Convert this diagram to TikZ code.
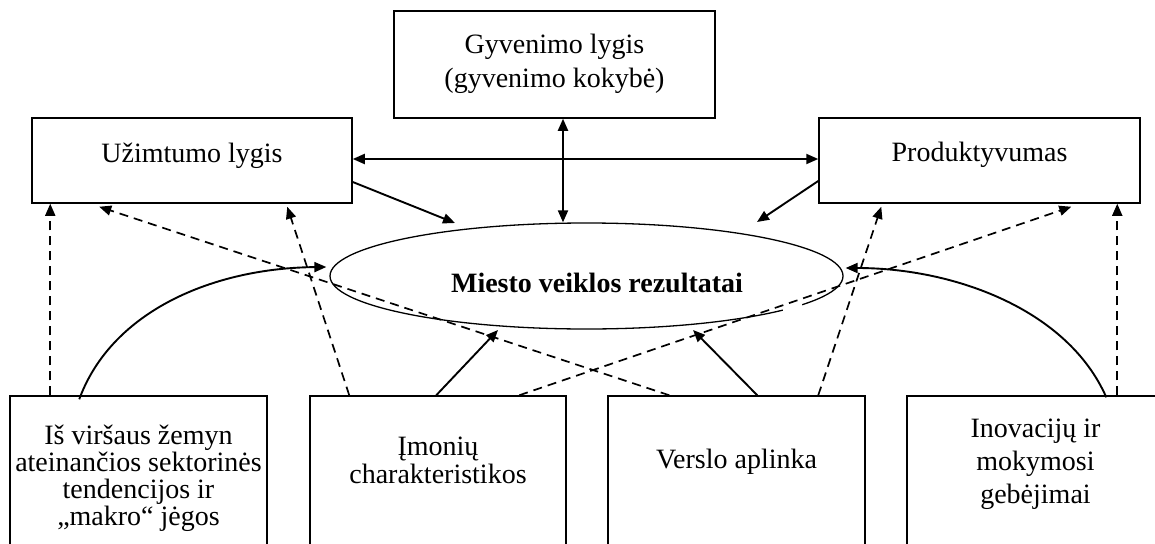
\documentclass[tikz,border=0pt]{standalone}
\usepackage{fontspec}
\setmainfont{Liberation Serif}
\usetikzlibrary{arrows.meta,calc,shapes.geometric}
\begin{document}
\begin{tikzpicture}[x=1pt,y=-1pt,
  box/.style={draw,line width=1.5pt,inner sep=0pt},
  txt/.style={inner sep=0pt,anchor=base,align=center},
  arr/.style={line width=1.9pt,arrows={-Triangle[length=12pt,width=10pt]}},
  darr/.style={line width=1.7pt,dash pattern=on 9pt off 6pt,arrows={-Triangle[length=12pt,width=10pt]}},
  biarr/.style={line width=2pt,arrows={Triangle[length=12pt,width=10pt]-Triangle[length=12pt,width=10pt]}}]
\useasboundingbox (0,0) rectangle (1155,543);
\clip (0,0) rectangle (1155,543);
% boxes
\node[box,minimum width=321pt,minimum height=107pt] (g) at (554.5,64.5) {};
\node[box,minimum width=320pt,minimum height=85pt] (u) at (192,160.5) {};
\node[box,minimum width=321pt,minimum height=85pt] (p) at (979.5,160.5) {};
\node[draw,line width=1.3pt,ellipse,inner sep=0pt,minimum width=513pt,minimum height=106pt] (e) at (586.5,276) {};
\draw[white,line width=4pt] ($(e.center)+(196.5,34)$) -- ($(e.center)+(215.5,28.7)$);
\node[box,minimum width=257pt,minimum height=200pt] (b1) at (138.5,496) {};
\node[box,minimum width=256pt,minimum height=200pt] (b2) at (438,496) {};
\node[box,minimum width=257pt,minimum height=200pt] (b3) at (736.5,496) {};
\node[box,minimum width=257pt,minimum height=200pt] (b4) at (1035.5,496) {};
% texts (base = last line baseline)
\node[txt,font=\fontsize{28}{34}\selectfont] (gt) at (554.5,87) {Gyvenimo lygis\\(gyvenimo kokybė)};
\node[txt,font=\fontsize{28}{34}\selectfont] (ut) at (192,162) {Užimtumo lygis};
\node[txt,font=\fontsize{28}{34}\selectfont] (pt) at (979.5,161) {Produktyvumas};
\node[txt,font=\fontsize{28}{34}\selectfont\bfseries] (et) at (597,292) {Miesto veiklos rezultatai};
\node[txt,font=\fontsize{28}{27}\selectfont] (b1t) at (138.5,525) {Iš viršaus žemyn\\ateinančios sektorinės\\tendencijos ir\\„makro“ jėgos};
\node[txt,font=\fontsize{28}{28}\selectfont] (b2t) at (438,483) {Įmonių\\charakteristikos};
\node[txt,font=\fontsize{28}{34}\selectfont] (b3t) at (736.5,468) {Verslo aplinka};
\node[txt,font=\fontsize{28}{33}\selectfont] (b4t) at (1035.5,503) {Inovacijų ir\\mokymosi\\gebėjimai};
% solid connectors
\coordinate (vt) at ($(g.south)+(8.5,0)$);
\draw[biarr] ($(u.east)+(0,-1.5)$) -- ($(p.west)+(0,-1.5)$);
\draw[biarr] (vt) -- (vt |- e.north);
\draw[arr] ($(u.east)+(0,21.5)$) -- ($(e.center)+(-131.5,-53)$);
\draw[arr] ($(p.west)+(0,20.5)$) -- ($(e.center)+(170.5,-54)$);
\draw[arr] ($(b2.north west)+(127,0)$) -- ($(e.center)+(-88.5,54)$);
\draw[arr] ($(b3.north west)+(150,0)$) -- ($(e.center)+(106.5,54)$);
\draw[arr] ($(b1.north west)+(70,4)$) .. controls (112,310) and (215,268) .. ($(e.west)+(-3,-9)$);
\draw[arr] ($(b4.north west)+(200,2)$) .. controls (1068,310) and (955,268) .. ($(e.east)+(2,-8)$);
% dashed connectors
\draw[darr] ($(b1.north west)+(41,0)$) -- ($(u.south west)+(19,0)$);
\draw[darr] ($(b3.north west)+(62,0)$) -- ($(u.south west)+(68,3)$);
\draw[darr] ($(b2.north west)+(210,0)$) -- ($(p.south west)+(253,3)$);
\draw[darr] ($(b2.north west)+(40,0)$) -- ($(u.south west)+(256,3)$);
\draw[darr] ($(b3.north west)+(211,0)$) -- ($(p.south west)+(63,3)$);
\draw[darr] ($(b4.north west)+(211,0)$) -- ($(p.south west)+(299,0)$);
\end{tikzpicture}
\end{document}
